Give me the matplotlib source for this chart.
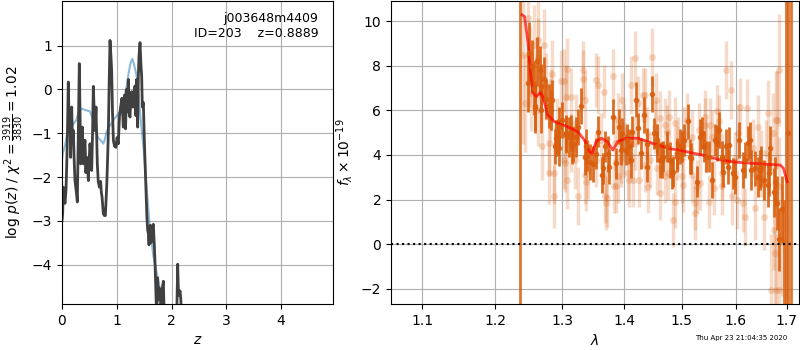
import numpy as np
import matplotlib
matplotlib.use('Agg')
from matplotlib import pyplot as plt

# p(z) panel: sampled posterior (dark) and smoothed curve (blue)
pz_z = [0.000, 0.012, 0.024, 0.040, 0.055, 0.073, 0.085, 0.097, 0.115, 0.134,
        0.146, 0.158, 0.177, 0.192, 0.207, 0.222, 0.237, 0.258, 0.280, 0.298,
        0.316, 0.330, 0.341, 0.356, 0.371, 0.390, 0.405, 0.420, 0.436, 0.451,
        0.466, 0.481, 0.496, 0.511, 0.527, 0.542, 0.558, 0.572, 0.588, 0.603,
        0.621, 0.645, 0.662, 0.682, 0.706, 0.718, 0.731, 0.755, 0.775, 0.792,
        0.816, 0.835, 0.847, 0.862, 0.877, 0.892, 0.907, 0.922, 0.938, 0.960,
        0.986, 1.005, 1.029, 1.050, 1.071, 1.095, 1.120, 1.140, 1.160, 1.181,
        1.196, 1.211, 1.224, 1.242, 1.258, 1.273, 1.288, 1.303, 1.318, 1.333,
        1.350, 1.364, 1.382, 1.394, 1.406, 1.425, 1.443, 1.455, 1.467, 1.486,
        1.504, 1.528, 1.550, 1.565, 1.578, 1.589, 1.600, 1.613, 1.625, 1.638,
        1.652, 1.668, 1.686, 1.700, 1.711, 1.729, 1.747, 1.760, 1.772, 1.790,
        1.808, 1.833, 1.851, 1.869, 1.900, 1.950, 2.000, 2.050, 2.095, 2.113,
        2.125, 2.137, 2.155, 2.170, 2.186, 2.250, 2.300]
pz_logp = [-3.00, -2.84, -2.23, -2.50, -2.60, -2.30, -1.80, -1.16, 0.17, -0.94,
           -0.50, -1.55, -0.40, -1.20, -0.94, -1.60, -2.08, -2.30, -2.57, -1.00,
           0.59, -0.60, -1.70, -1.30, -0.86, -1.70, -1.30, -1.16, -1.90, -1.55,
           -1.70, -2.08, -1.60, -1.24, -1.50, -1.85, -1.00, 0.07, -0.50, -0.94,
           -0.40, -1.70, -2.10, -2.23, -2.10, -2.35, -2.45, -2.84, -2.88, -2.88,
           -2.23, -1.50, -0.94, 0.20, 1.12, 0.80, 0.43, -0.50, -1.16, -1.30,
           -1.32, -1.10, -1.24, -0.60, -0.40, -0.20, -0.86, -0.13, -0.90, 0.00,
           -0.50, 0.23, -0.53, -0.63, -0.20, -0.05, -0.40, -0.40, -0.10, 0.08,
           -0.60, 0.23, -0.86, 0.30, 0.76, 1.07, 0.53, 0.30, -0.40, -0.30,
           -1.16, -2.08, -2.90, -3.22, -3.30, -3.55, -3.20, -3.10, -3.50, -3.42,
           -3.15, -3.08, -3.55, -4.00, -4.46, -5.20, -4.30, -4.80, -4.53, -4.70,
           -4.90, -4.53, -4.38, -5.30, -5.80, -6.00, -5.70, -5.40, -5.20, -3.99,
           -4.60, -4.70, -4.60, -4.80, -5.30, -6.00, -6.50]

prior_z = [0.000, 0.012, 0.055, 0.097, 0.13, 0.17, 0.26, 0.31, 0.36, 0.45,
           0.51, 0.57, 0.62, 0.66, 0.72, 0.755, 0.78, 0.82, 0.88, 0.94,
           1.00, 1.06, 1.12, 1.18, 1.22, 1.255, 1.285, 1.32, 1.364, 1.395,
           1.425, 1.486, 1.55, 1.60, 1.668, 1.76, 1.85, 1.95, 2.05]
prior_logp = [-1.60, -1.47, -1.28, -1.00, -0.95, -0.85, -0.70, -0.50, -0.44, -0.48,
              -0.50, -0.70, -0.95, -1.10, -1.18, -1.24, -1.15, -0.94, -0.82, -0.70,
              -0.60, -0.50, -0.25, 0.07, 0.40, 0.62, 0.70, 0.55, 0.30, -0.10,
              -0.53, -1.30, -2.30, -3.10, -3.80, -4.38, -4.90, -5.40, -5.90]

# spectrum panel (wavelength in microns, flux x 1e-19)
dark_wave = [1.2485, 1.2500, 1.2534, 1.2570, 1.2585, 1.2659, 1.2682, 1.2723, 1.2757, 1.2797,
             1.2831, 1.2896, 1.2930, 1.2955, 1.2994, 1.3058, 1.3102, 1.3140, 1.3167, 1.3211,
             1.3248, 1.3302, 1.3357, 1.3394, 1.3448, 1.3492, 1.3545, 1.3627, 1.3649, 1.3731,
             1.3821, 1.3865, 1.3919, 1.3958, 1.4030, 1.4077, 1.4135, 1.4193, 1.4235, 1.4293,
             1.4340, 1.4381, 1.4468, 1.4516, 1.4556, 1.4614, 1.4674, 1.4732, 1.4789, 1.4849,
             1.4907, 1.4965, 1.5044, 1.5106, 1.5167, 1.5272, 1.5333, 1.5396, 1.5489, 1.5550,
             1.5611, 1.5674, 1.5754, 1.5815, 1.5878, 1.5952, 1.6065, 1.6128, 1.6237, 1.6300,
             1.6363, 1.6427, 1.6490, 1.6553, 1.6618, 1.6662, 1.6744, 1.6809, 1.6853, 1.6905,
             1.2579, 1.2619, 1.2678, 1.2837, 1.2901, 1.2950, 1.3054, 1.3162, 1.3378, 1.3568,
             1.3687, 1.3741, 1.3946, 1.4040, 1.4118, 1.4390, 1.4565, 1.4644, 1.4819, 1.4915,
             1.4995, 1.5148, 1.5365, 1.5439, 1.5643, 1.5735, 1.5859, 1.5982, 1.6172, 1.6267,
             1.6477, 1.6649, 1.6760]
dark_flux = [7.22, 8.56, 7.97, 7.00, 6.20, 7.80, 6.00, 7.40, 6.50, 6.20,
             6.00, 4.38, 4.80, 5.25, 5.57, 4.90, 4.80, 5.00, 4.50, 4.80,
             5.25, 6.20, 3.90, 3.97, 3.68, 3.60, 4.05, 3.10, 3.40, 4.05,
             5.72, 3.63, 5.27, 4.97, 4.24, 4.38, 5.05, 6.48, 5.20, 4.08,
             5.80, 4.50, 6.72, 4.97, 4.38, 3.78, 3.93, 4.38, 3.78, 3.25,
             3.93, 4.38, 4.67, 5.50, 3.85, 2.81, 4.82, 4.38, 3.93, 2.88,
             4.67, 5.12, 3.25, 4.38, 4.45, 3.18, 4.67, 3.33, 4.52, 3.33,
             3.40, 3.03, 3.48, 2.88, 2.66, 4.30, 2.32, 1.84, 0.22, 1.57,
             6.10, 8.19, 7.07, 6.47, 4.75, 4.30, 4.98, 4.38, 4.38, 5.05,
             4.38, 3.48, 4.23, 4.68, 3.78, 3.48, 4.68, 3.78, 3.18, 4.08,
             4.38, 3.93, 4.98, 3.93, 4.53, 3.93, 3.48, 3.03, 3.78, 4.68,
             3.33, 3.18, 2.81]
dark_err = [1.3, 1.4, 1.2, 1.2, 1.1, 1.1, 1.0, 1.0, 0.9, 1.0,
            0.9, 0.8, 0.8, 0.9, 0.8, 0.8, 0.9, 0.8, 0.8, 0.9,
            0.8, 0.8, 0.8, 0.7, 0.8, 0.8, 0.7, 0.8, 0.7, 0.8,
            0.8, 0.7, 0.8, 0.7, 0.7, 0.8, 0.7, 0.8, 0.7, 0.7,
            0.8, 0.7, 0.8, 0.7, 0.7, 0.8, 0.7, 0.7, 0.8, 0.7,
            0.7, 0.8, 0.7, 0.8, 0.7, 0.7, 0.8, 0.7, 0.7, 0.8,
            0.7, 0.8, 0.7, 0.8, 0.8, 0.7, 0.8, 0.8, 0.8, 0.9,
            0.8, 0.9, 0.9, 0.9, 1.0, 1.0, 1.1, 1.2, 1.4, 1.5,
            1.1, 1.1, 1.0, 0.9, 0.8, 0.8, 0.8, 0.8, 0.8, 0.7,
            0.7, 0.8, 0.7, 0.7, 0.8, 0.7, 0.7, 0.8, 0.7, 0.7,
            0.7, 0.8, 0.7, 0.7, 0.8, 0.7, 0.8, 0.8, 0.8, 0.8,
            0.9, 1.0, 1.1]

light_wave = [1.2429, 1.2637, 1.2570, 1.2727, 1.2689, 1.2801, 1.2841, 1.2867, 1.2975, 1.3026,
              1.3054, 1.3081, 1.3135, 1.3050, 1.3070, 1.3243, 1.3325, 1.3330, 1.3362, 1.3378,
              1.3529, 1.3568, 1.3675, 1.3703, 1.3719, 1.3821, 1.3837, 1.3893, 1.4000, 1.4088,
              1.4147, 1.4175, 1.4235, 1.4253, 1.4351, 1.4468, 1.4355, 1.4556, 1.4614, 1.4702,
              1.4772, 1.4849, 1.4877, 1.4937, 1.5026, 1.5087, 1.5180, 1.5241, 1.5245, 1.5333,
              1.5426, 1.5489, 1.5582, 1.5674, 1.5735, 1.5815, 1.5907, 1.5920, 1.6076, 1.6128,
              1.6172, 1.6223, 1.6363, 1.6427, 1.6553, 1.6618, 1.6733, 1.6744, 1.6840, 1.6809,
              1.6695, 1.6845, 1.6904, 1.6838, 1.6586, 1.6490, 1.6332, 1.6046, 1.5982, 1.5740,
              1.5550, 1.5430, 1.5304, 1.4907, 1.4731, 1.4526, 1.4439, 1.4381, 1.4180, 1.4005,
              1.3946, 1.3840, 1.3622, 1.3540, 1.3406, 1.3216, 1.3140, 1.3030, 1.2926, 1.2827,
              1.2752, 1.2805, 1.2629, 1.2530, 1.2505, 1.2481, 1.2410,
              1.3895, 1.3958, 1.4118, 1.4323, 1.4550, 1.4620, 1.4708, 1.4882, 1.5030, 1.5185,
              1.3680, 1.3865, 1.3950, 1.4060, 1.4410, 1.4761, 1.4995, 1.5272, 1.6780, 1.5420,
              1.5519, 1.5643, 1.5738, 1.6013, 1.6760, 1.6776, 1.2634, 1.2807, 1.2870, 1.3195,
              1.3357]
light_flux = [6.32, 9.17, 8.91, 8.94, 4.38, 3.18, 7.64, 2.14, 7.30, 7.33,
              6.62, 7.85, 6.62, 3.63, 2.90, 2.14, 7.82, 7.42, 6.47, 2.81,
              7.37, 7.14, 6.84, 1.84, 2.06, 7.55, 2.60, 3.04, 5.12, 2.88,
              2.88, 8.34, 6.32, 2.88, 6.69, 8.38, 3.55, 3.40, 5.65, 3.04,
              5.72, 1.09, 1.91, 4.52, 2.66, 5.57, 3.11, 1.39, 1.84, 2.74,
              5.35, 1.91, 2.51, 5.50, 3.18, 7.82, 6.93, 2.14, 6.17, 1.84,
              1.24, 6.10, 1.61, 5.27, 1.24, 5.87, 4.97, 0.63, 7.82, 5.57,
              -2.05, -2.05, 0.19, 2.59, 4.08, 3.63, 4.30, 4.97, 3.85, 3.78,
              4.82, 4.38, 5.12, 4.08, 5.05, 5.27, 3.78, 4.97, 4.52, 4.22,
              3.93, 4.52, 4.67, 3.78, 3.33, 5.42, 4.52, 3.78, 5.27, 6.47,
              7.07, 4.52, 6.02, 6.77, 7.97, 10.13, 8.50,
              5.57, 6.47, 7.14, 6.69, 6.47, 2.28, 5.35, 5.42, 4.97, 4.82,
              2.14, 2.60, 3.78, 3.18, 2.58, 3.18, 3.04, 2.58, 5.57, 5.72,
              5.35, 5.95, 2.60, 1.98, -0.40, -2.05, 8.35, 5.99, 3.18, 3.78,
              3.10]
light_err = [2.2, 1.8, 1.8, 1.6, 1.5, 1.4, 1.5, 1.4, 1.4, 1.4,
             1.4, 1.4, 1.3, 1.3, 1.3, 1.3, 1.3, 1.3, 1.3, 1.3,
             1.2, 1.3, 1.2, 1.2, 1.3, 1.2, 1.2, 1.2, 1.2, 1.2,
             1.2, 1.2, 1.2, 1.2, 1.2, 1.3, 1.2, 1.2, 1.2, 1.2,
             1.2, 1.2, 1.2, 1.2, 1.2, 1.2, 1.2, 1.2, 1.2, 1.2,
             1.2, 1.2, 1.2, 1.2, 1.2, 1.3, 1.3, 1.3, 1.3, 1.3,
             1.3, 1.3, 1.4, 1.4, 1.5, 1.5, 1.8, 1.8, 2.5, 2.2,
             2.5, 2.5, 2.5, 2.2, 1.5, 1.5, 1.3, 1.3, 1.2, 1.2,
             1.2, 1.2, 1.2, 1.2, 1.2, 1.2, 1.2, 1.2, 1.2, 1.2,
             1.2, 1.2, 1.2, 1.2, 1.3, 1.3, 1.3, 1.3, 1.3, 1.4,
             1.5, 1.4, 1.6, 1.7, 1.8, 2.0, 4.0,
             1.2, 1.2, 1.3, 1.2, 1.2, 1.2, 1.2, 1.2, 1.2, 1.2,
             1.2, 1.2, 1.2, 1.2, 1.2, 1.2, 1.2, 1.2, 2.2, 1.2,
             1.2, 1.2, 1.3, 1.3, 2.5, 2.5, 1.8, 1.4, 1.4, 1.3,
             1.3]

# points with huge uncertainties at the ends of the grism bandpass
edge_wave = [1.2367, 1.6950, 1.6986, 1.7025, 1.7098]
edge_flux = [11.5, -3.5, 11.5, 5.0, 11.5]
edge_err = [20.0, 5.5, 20.0, 8.0, 20.0]

model_wave = [1.2392, 1.2430, 1.2481, 1.2519, 1.2555, 1.2604, 1.2668, 1.2703, 1.2778, 1.2876,
              1.3081, 1.3243, 1.3351, 1.3432, 1.3471, 1.3540, 1.3622, 1.3719, 1.3812, 1.3893,
              1.4030, 1.4235, 1.4468, 1.4761, 1.5056, 1.5365, 1.5674, 1.5982, 1.6300, 1.6618,
              1.6872, 1.6935, 1.7011]
model_flux = [10.28, 10.20, 9.00, 7.67, 6.77, 6.62, 6.80, 6.62, 5.80, 5.50,
              5.27, 5.05, 4.67, 4.15, 4.07, 4.60, 4.75, 4.60, 4.22, 4.60,
              4.75, 4.75, 4.53, 4.30, 4.16, 4.00, 3.80, 3.68, 3.63, 3.58,
              3.55, 3.40, 2.80]

wave_ticks = [1.1, 1.2, 1.3, 1.4, 1.5, 1.6, 1.7]

fig = plt.figure(figsize=(8, 3.5), dpi=100)
ax_pz = fig.add_axes([0.0775, 0.1314, 0.3388, 0.8657])
ax_sp = fig.add_axes([0.48875, 0.1314, 0.51, 0.8657])

# p(z)
ax_pz.plot(prior_z, prior_logp, color='#1f77b4', alpha=0.5, lw=1.5)
ax_pz.plot(pz_z, pz_logp, color='0.25', lw=2)
ax_pz.set_xlim(0, 4.95)
ax_pz.set_ylim(-4.9, 2.02)
ax_pz.set_xticks([0, 1, 2, 3, 4])
ax_pz.set_yticks([-4, -3, -2, -1, 0, 1])
ax_pz.grid()
ax_pz.set_xlabel(r'$z$')
ax_pz.set_ylabel(r'log $p(z)$ / $\chi^2=\frac{3919}{3830}=1.02$')
ax_pz.text(0.945, 0.965, 'j003648m4409\nID=203    z=0.8889', transform=ax_pz.transAxes,
           ha='right', va='top', fontsize=9)

# spectrum
col = '#d95f0e'
ax_sp.errorbar(light_wave, light_flux, yerr=light_err, color=col, alpha=0.22,
               marker='o', ms=5, ls='none', elinewidth=2.5, mec='none')
ax_sp.errorbar(edge_wave, edge_flux, yerr=edge_err, color=col, alpha=0.85,
               marker='o', ms=4, ls='none', elinewidth=2, mec='none')
ax_sp.errorbar(dark_wave, dark_flux, yerr=dark_err, color=col, alpha=0.9,
               marker='o', ms=4, ls='none', elinewidth=2, mec='none')
ax_sp.plot(model_wave, model_flux, color='red', alpha=0.7, lw=2)
ax_sp.axhline(0, color='k', ls=':', lw=1.5)
ax_sp.set_xscale('log')
ax_sp.set_xlim(1.0596, 1.7253)
ax_sp.set_ylim(-2.68, 10.9)
ax_sp.set_xticks(wave_ticks)
ax_sp.set_xticklabels([str(t) for t in wave_ticks])
ax_sp.minorticks_off()
ax_sp.grid()
ax_sp.set_xlabel(r'$\lambda$')
ax_sp.set_ylabel(r'$f_\lambda\times10^{-19}$')

fig.text(0.984, 0.027, 'Thu Apr 23 21:04:35 2020', ha='right', va='bottom', fontsize=5)

fig.savefig('out.png', dpi=100)
